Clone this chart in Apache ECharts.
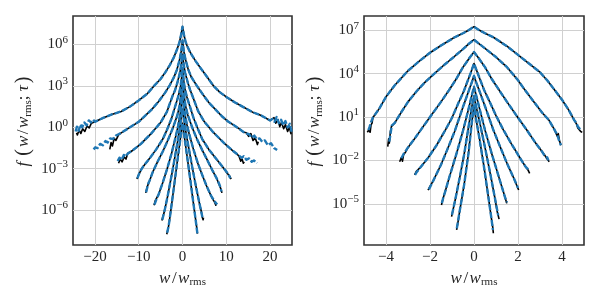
<!DOCTYPE html>
<html><head><meta charset="utf-8">
<script src="https://cdn.jsdelivr.net/npm/echarts@6/dist/echarts.min.js"></script>
<style>html,body{margin:0;padding:0;background:#fff}#c{width:600px;height:300px}</style>
</head><body><div id="c"></div>
<script>
// values: [x = w/w_rms, log10 f]
// ---------- left panel ----------
const A1_core=[[-20,0.4],[-18,0.7],[-16,0.95],[-14,1.15],[-12,1.5],[-10,1.95],[-8,2.45],[-6.5,3.0],[-5,3.5],[-4,3.95],[-3,4.45],[-2,5.05],[-1.3,5.6],[-0.7,6.15],[-0.3,6.75],[0,7.3],[0.3,6.75],[0.7,6.2],[1,5.95],[1.5,5.6],[2,5.3],[3,4.8],[4,4.35],[5.5,3.7],[7.1,3.0],[8.5,2.55],[10,2.2],[12,1.8],[14,1.45],[16,1.1],[18,0.85],[20,0.5]];
const A1_black=[[-24.2,-0.4],[-24,-0.55],[-23.6,-0.2],[-23.2,-0.45],[-22.8,-0.1],[-22.3,-0.3],[-21.8,0.1],[-21.3,-0.05],[-20.8,0.3],[-20.4,0.2],[20.4,0.45],[20.9,0.7],[21.3,0.3],[21.8,0.55],[22.2,0.05],[22.6,0.35],[23.1,-0.1],[23.5,0.2],[24,-0.3],[24.4,0.0],[24.8,-0.5]];
const A1_blue=[[-24.4,-0.3],[-24.1,0.05],[-23.7,-0.25],[-23.3,0.2],[-22.9,0.0],[-22.4,0.35],[-21.9,0.15],[-21.4,0.5],[-20.9,0.35],[-20.4,0.55],[20.5,0.6],[21,0.4],[21.5,0.75],[22,0.3],[22.5,0.55],[23,0.15],[23.5,0.45],[24,0.0],[24.5,0.25],[25,-0.45]];
const A2_core=[[-14,-0.4],[-12,0.0],[-10,0.4],[-8.5,0.85],[-7,1.3],[-5.5,1.85],[-4,2.5],[-3,3.0],[-2,3.6],[-1.3,4.15],[-0.7,4.85],[-0.3,5.5],[0,6.3],[0.3,5.5],[0.7,4.9],[1.3,4.2],[2,3.65],[3.3,3.0],[4.5,2.45],[6,1.8],[7.5,1.3],[9,0.8],[10.5,0.4],[12,0.1],[14,-0.35]];
const A2_black=[[-16.6,-1.6],[-16.3,-1.1],[-16,-1.35],[-15.6,-0.8],[-15.2,-0.95],[-14.6,-0.55],[14.6,-0.4],[15.1,-0.65],[15.6,-0.45],[16.1,-0.95],[16.6,-0.75],[17.1,-1.25],[17.3,-1.05]];
const A2_blue=[[-20.3,-1.6],[-19.9,-1.45],[-19.4,-1.5],[-18.8,-1.2],[-18.2,-1.3],[-17.6,-1.0],[-17.1,-1.1],[-16.5,-0.8],[-15.9,-0.85],[-15.2,-0.6],[-14.6,-0.5],[14.6,-0.45],[15.2,-0.5],[15.8,-0.75],[16.4,-0.6],[17,-0.85],[17.6,-0.8],[18.2,-1.05],[18.8,-0.95],[19.5,-1.3],[20.2,-1.15],[20.9,-1.5],[21.6,-1.65]];
const A3_core=[[-12.5,-1.9],[-11.5,-1.7],[-9.5,-1.2],[-7,-0.4],[-5,0.35],[-3.6,1.1],[-2.3,2.25],[-1.75,2.65],[-1.2,3.2],[-0.6,3.95],[-0.3,4.5],[0,5.3],[0.3,4.5],[0.6,3.96],[1.2,3.25],[1.75,2.7],[2.3,2.25],[3.6,1.15],[5,0.4],[7,-0.35],[9.5,-1.15],[11.5,-1.7],[12.5,-1.95]];
const A3_black=[[-14.6,-2.6],[-14.2,-2.3],[-13.8,-2.5],[-13.3,-2.15],[-12.9,-2.3],[12.9,-2.1],[13.3,-2.45],[13.6,-2.3],[13.9,-2.6],[14.1,-2.5]];
const A3_blue=[[-14.8,-2.45],[-14.4,-2.2],[-13.9,-2.35],[-13.4,-2.0],[-12.9,-2.1],[12.9,-2.0],[13.5,-2.2],[14,-2.1],[14.6,-2.35],[15.2,-2.25],[15.8,-2.5],[16.3,-2.4],[17,-2.6]];
const A4_core=[[-9,-2.85],[-7.5,-2.25],[-6,-1.6],[-4.5,-0.85],[-3.5,-0.15],[-2.5,0.65],[-1.5,1.7],[-1,2.2],[-0.5,2.85],[-0.25,3.45],[0,4.3],[0.25,3.45],[0.5,2.85],[1,2.2],[1.5,1.7],[2.5,0.7],[3.5,-0.1],[4.5,-0.85],[6,-1.6],[7.5,-2.2],[9,-2.8]];
const A4_black=[[-10.4,-3.75],[-10.1,-3.5],[-9.8,-3.4],[-9.4,-3.05],[9.5,-3.0],[10,-3.25],[10.4,-3.2],[10.8,-3.55],[11.1,-3.75]];
const A4_blue=[[-10.3,-3.7],[-9.9,-3.35],[-9.5,-3.1],[9.5,-3.0],[10,-3.2],[10.5,-3.4],[10.9,-3.7]];
const A5_core=[[-7.5,-3.85],[-6.8,-3.25],[-5.7,-2.5],[-4.5,-1.75],[-3.3,-0.9],[-2.2,-0.05],[-1.2,0.85],[-0.7,1.5],[-0.4,2.15],[-0.2,2.7],[0,3.3],[0.2,2.7],[0.4,2.2],[0.7,1.55],[1.2,0.9],[2.2,0.0],[3.3,-0.85],[4.5,-1.65],[5.7,-2.4],[6.8,-3.1],[7.8,-3.7]];
const A5_black=[[-8.4,-4.75],[-8.1,-4.35],[-7.8,-4.1],[8.1,-3.95],[8.5,-4.25],[8.8,-4.5],[9.0,-4.75]];
const A5_blue=[[-8.3,-4.7],[-8,-4.3],[-7.8,-4.05],[8.1,-3.9],[8.5,-4.2],[8.9,-4.65]];
const A6_core=[[-5.5,-4.9],[-4.5,-4.0],[-3.5,-3.0],[-2.5,-1.9],[-1.5,-0.6],[-1,0.1],[-0.5,1.0],[-0.2,1.75],[0,2.3],[0.2,1.75],[0.5,1.05],[1,0.2],[1.5,-0.45],[2.5,-1.6],[3.5,-2.6],[4.5,-3.45],[5.5,-4.25],[6.5,-4.95]];
const A6_black=[[-6.5,-5.65],[-6.2,-5.3],[-5.9,-5.2],[6.9,-5.2],[7.3,-5.4],[7.6,-5.65],[7.8,-5.5]];
const A6_blue=[[-6.4,-5.6],[-6.1,-5.35],[-5.9,-5.15],[6.9,-5.15],[7.3,-5.35],[7.9,-5.6]];
const A7_core=[[-4,-5.9],[-3.4,-5.0],[-2.8,-4.0],[-2.2,-3.0],[-1.6,-1.9],[-1.1,-1.0],[-0.7,-0.25],[-0.3,0.7],[0,1.3],[0.3,0.7],[0.7,-0.2],[1.1,-0.95],[1.6,-1.8],[2.2,-2.85],[2.8,-3.85],[3.4,-4.8],[4,-5.7]];
const A7_black=[[-4.7,-6.75],[-4.5,-6.5],[-4.3,-6.3],[4.3,-6.1],[4.5,-6.5],[4.7,-6.7],[4.8,-6.55]];
const A7_blue=[[-4.6,-6.7],[-4.3,-6.3],[4.3,-6.15],[4.6,-6.6]];
const A8_core=[[-3.0,-6.8],[-2.4,-5.4],[-1.8,-3.95],[-1.2,-2.5],[-0.7,-1.35],[-0.25,-0.25],[0,0.3],[0.25,-0.25],[0.7,-1.3],[1.2,-2.45],[1.8,-3.85],[2.4,-5.3],[3.0,-6.7]];
const A8_black=[[-3.6,-7.75],[-3.4,-7.5],[-3.2,-7.2],[3.2,-7.15],[3.4,-7.7]];
const A8_blue=[[-3.5,-7.65],[-3.2,-7.2],[3.2,-7.2],[3.4,-7.7]];
// ---------- right panel ----------
const B1_core=[[-4.6,0.95],[-4.3,1.6],[-4,2.4],[-3.6,3.2],[-3,4.2],[-2.5,4.85],[-2,5.45],[-1.5,5.95],[-0.9,6.5],[-0.5,6.8],[-0.25,7.0],[0,7.25],[0.25,7.0],[0.5,6.8],[0.9,6.5],[1.5,5.9],[2,5.3],[2.5,4.7],[3,4.1],[3.35,3.5],[3.7,2.8],[4.0,2.2],[4.3,1.5],[4.55,0.8]];
const B1_black=[[-4.85,-0.05],[-4.78,0.1],[-4.72,-0.05],[-4.68,0.45],[-4.63,0.6],[4.65,0.55],[4.72,0.25],[4.77,0.35],[4.85,0.0],[4.92,-0.06]];
const B1_blue=[[-4.8,0.1],[-4.75,0.3],[-4.68,0.65],[-4.63,0.75],[4.65,0.6],[4.72,0.35],[4.78,0.45],[4.85,0.1]];
const B2_core=[[-3.6,0.6],[-3.3,1.35],[-3.0,2.05],[-2.6,2.8],[-2.2,3.45],[-1.8,4.0],[-1.4,4.55],[-1,5.05],[-0.5,5.7],[-0.25,6.05],[0,6.35],[0.25,6.05],[0.5,5.75],[1,5.15],[1.5,4.45],[2,3.55],[2.3,2.9],[2.7,2.1],[3.1,1.3],[3.4,0.8],[3.65,0.15]];
const B2_black=[[-3.92,-1.05],[-3.88,-0.5],[-3.85,-0.8],[-3.8,0.0],[-3.75,0.35],[-3.68,0.3],[3.72,-0.1],[3.78,-0.3],[3.83,-0.15],[3.88,-0.6],[3.95,-0.95]];
const B2_blue=[[-3.85,-0.7],[-3.8,-0.2],[-3.74,0.4],[-3.68,0.35],[3.72,-0.05],[3.78,-0.2],[3.84,-0.5],[3.95,-0.95]];
const B3_core=[[-3.0,-1.1],[-2.7,-0.5],[-2.4,0.15],[-2,1.0],[-1.5,2.05],[-1.14,2.85],[-0.8,3.65],[-0.5,4.45],[-0.2,5.1],[0,5.5],[0.2,5.1],[0.5,4.45],[0.8,3.65],[1.14,2.87],[1.5,2.05],[2,0.95],[2.4,0.1],[2.8,-0.8],[3.1,-1.4]];
const B3_black=[[-3.38,-2.09],[-3.3,-1.8],[-3.25,-2.05],[-3.2,-1.6],[-3.1,-1.4],[3.2,-1.6],[3.3,-1.85],[3.38,-1.75],[3.42,-2.09]];
const B3_blue=[[-3.3,-1.85],[-3.2,-1.55],[3.2,-1.65],[3.33,-1.8],[3.38,-2.0]];
const B4_core=[[-2.45,-2.5],[-2.1,-1.85],[-1.7,-0.95],[-1.34,0.0],[-1,0.95],[-0.7,2.0],[-0.46,2.8],[-0.3,3.45],[-0.15,4.05],[0,4.7],[0.15,4.1],[0.3,3.5],[0.46,2.87],[0.7,2.1],[1,1.1],[1.34,0.1],[1.7,-0.85],[2.1,-1.85],[2.35,-2.45]];
const B4_black=[[-2.7,-3.0],[-2.62,-2.75],[-2.55,-2.8],[2.45,-2.65],[2.53,-2.9]];
const B4_blue=[[-2.68,-3.0],[-2.6,-2.8],[2.45,-2.6],[2.5,-2.75]];
const B5_core=[[-1.85,-3.4],[-1.5,-2.3],[-1.2,-1.2],[-0.88,0.0],[-0.5,1.7],[-0.23,2.85],[-0.1,3.4],[0,3.85],[0.1,3.4],[0.23,2.87],[0.5,1.75],[0.88,0.1],[1.2,-1.1],[1.5,-2.2],[1.8,-3.2]];
const B5_black=[[-2.09,-4.05],[-2.0,-3.8],[1.95,-3.75],[2.03,-4.05]];
const B5_blue=[[-2.05,-4.0],[2.0,-3.9]];
const B6_core=[[-1.3,-4.1],[-1.1,-3.05],[-0.8,-1.55],[-0.5,0.05],[-0.25,1.55],[-0.1,2.5],[0,3.1],[0.1,2.5],[0.25,1.6],[0.5,0.1],[0.8,-1.5],[1.1,-3.0],[1.3,-4.0]];
const B6_black=[[-1.48,-5.08],[-1.4,-4.6],[1.4,-4.5],[1.49,-4.97]];
const B6_blue=[[-1.46,-4.95],[-1.4,-4.6],[1.42,-4.6],[1.5,-4.9]];
const B7_core=[[-0.85,-4.7],[-0.65,-3.2],[-0.45,-1.6],[-0.25,0.3],[-0.1,1.7],[0,2.45],[0.1,1.7],[0.25,0.7],[0.5,-1.1],[0.75,-3.0],[0.95,-4.6]];
const B7_black=[[-1.02,-5.89],[-0.95,-5.4],[1.05,-5.5],[1.14,-6.06]];
const B7_blue=[[-1.0,-5.75],[1.1,-5.8]];
const B8_core=[[-0.65,-5.5],[-0.45,-3.7],[-0.25,-1.5],[-0.1,0.6],[0,1.8],[0.1,0.8],[0.25,-0.5],[0.45,-2.4],[0.65,-4.5],[0.8,-6.1]];
const B8_black=[[-0.79,-6.81],[-0.72,-6.2],[0.85,-6.6],[0.88,-7.04]];
const B8_blue=[[-0.78,-6.7],[0.86,-6.8]];

const leftXTicks=[-20,-10,0,10,20];
const leftYTicks=[-6,-3,0,3,6];
const rightXTicks=[-4,-2,0,2,4];
const rightYTicks=[-5,-2,1,4,7];

const leftCurves=[[A1_core,A1_black,A1_blue],[A2_core,A2_black,A2_blue],[A3_core,A3_black,A3_blue],[A4_core,A4_black,A4_blue],[A5_core,A5_black,A5_blue],[A6_core,A6_black,A6_blue],[A7_core,A7_black,A7_blue],[A8_core,A8_black,A8_blue]];
const rightCurves=[[B1_core,B1_black,B1_blue],[B2_core,B2_black,B2_blue],[B3_core,B3_black,B3_blue],[B4_core,B4_black,B4_blue],[B5_core,B5_black,B5_blue],[B6_core,B6_black,B6_blue],[B7_core,B7_black,B7_blue],[B8_core,B8_black,B8_blue]];

const FONT="'Liberation Serif', 'DejaVu Serif', serif";
const TXT='#262626';
const minus=n=>n<0?'\u2212'+(-n):String(n);
const merge=(a,b)=>a.concat(b).sort((p,q)=>p[0]-q[0]);

const series=[];
function addPanel(curves, idx){
  curves.forEach(c=>series.push({type:'line',xAxisIndex:idx,yAxisIndex:idx,data:merge(c[0],c[1]),symbol:'none',showSymbol:false,silent:true,z:2,
    lineStyle:{color:'#000',width:1.6,join:'round'}}));
  curves.forEach(c=>series.push({type:'line',xAxisIndex:idx,yAxisIndex:idx,data:merge(c[0],c[2]),symbol:'none',showSymbol:false,silent:true,z:3,
    lineStyle:{color:'#1f77b4',width:2.4,type:[6,2],join:'round'}}));
}
addPanel(leftCurves,0);
addPanel(rightCurves,1);

const richBase={
  b:{fontSize:15,fontFamily:FONT,color:TXT},
  sup:{fontSize:11,fontFamily:FONT,color:TXT,padding:[0,0,9,0]},
  i:{fontSize:17,fontFamily:FONT,fontStyle:'italic',color:TXT},
  fi:{fontSize:17,fontFamily:FONT,fontStyle:'italic',color:TXT,padding:[0,4,0,0]},
  n:{fontSize:17,fontFamily:FONT,color:TXT},
  sl:{fontSize:17,fontFamily:FONT,color:TXT,padding:[0,1.5,0,1.5]},
  p:{fontSize:20,fontFamily:FONT,color:TXT,padding:[0,2,0,2]},
  s:{fontSize:11,fontFamily:FONT,color:TXT,padding:[8,0,0,0]}
};
function xAxis(idx,min,max,ticks){
  return {type:'value',gridIndex:idx,min:min,max:max,
    axisLine:{show:false},
    axisTick:{show:false,customValues:ticks},
    axisLabel:{customValues:ticks,margin:5,fontSize:15,fontFamily:FONT,color:TXT,formatter:v=>minus(v)},
    splitLine:{show:true,lineStyle:{color:'#d0d0d0',width:1}},
    name:'{i|w}{sl|/}{i|w}{s|rms}',nameLocation:'middle',nameGap:18,
    nameTextStyle:{rich:richBase}};
}
function yAxis(idx,min,max,ticks){
  return {type:'value',gridIndex:idx,min:min,max:max,
    axisLine:{show:false},
    axisTick:{show:false,customValues:ticks},
    axisLabel:{customValues:ticks,margin:5,rich:richBase,formatter:v=>'{b|10}{sup|'+minus(Math.round(v))+'}'},
    splitLine:{show:true,lineStyle:{color:'#d0d0d0',width:1}},
    name:'{fi|f}{p|(}{i|w}{sl|/}{i|w}{s|rms}{n|; }{i|τ}{p|)}',nameLocation:'middle',nameRotate:90,nameGap:39,
    nameTextStyle:{rich:richBase,padding:[0,0,0,20]}};
}

const chart=echarts.init(document.getElementById('c'),null,{renderer:'canvas',width:600,height:300});
chart.setOption({
  animation:false,
  backgroundColor:'#fff',
  grid:[
    {left:73,top:16,width:219,height:229,show:true,borderColor:'#333',borderWidth:1.6,backgroundColor:'transparent'},
    {left:364,top:16,width:220,height:229,show:true,borderColor:'#333',borderWidth:1.6,backgroundColor:'transparent'}
  ],
  xAxis:[xAxis(0,-25,25,leftXTicks),xAxis(1,-5,5,rightXTicks)],
  yAxis:[yAxis(0,-8.53,8.07,leftYTicks),yAxis(1,-7.85,7.99,rightYTicks)],
  series:series
});
</script></body></html>
